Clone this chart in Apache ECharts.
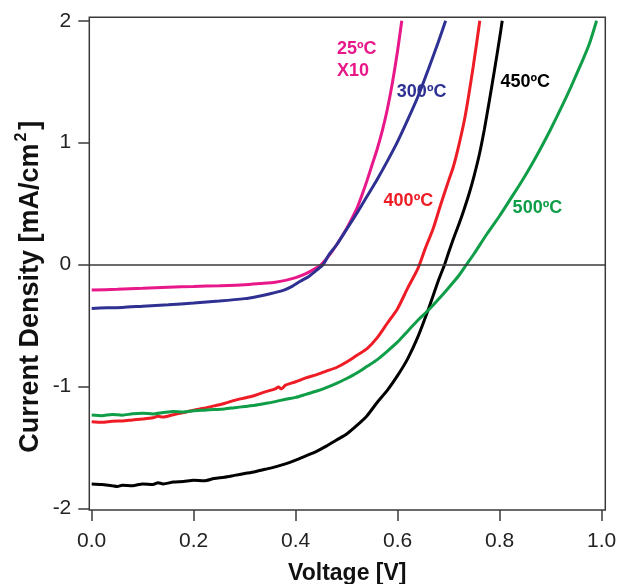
<!DOCTYPE html>
<html>
<head>
<meta charset="utf-8">
<script src="https://cdn.jsdelivr.net/npm/echarts@6/dist/echarts.min.js"></script>
<style>
html, body { margin: 0; padding: 0; background: #fff; }
#chart { width: 619px; height: 584px; }
</style>
</head>
<body>
<div id="chart"></div>
<script>
var xTicks = [0, 0.2, 0.4, 0.6, 0.8, 1.0];
var yTicks = [-2, -1, 0, 1, 2];
var curveNames = ['25ºC', '300ºC', '400ºC', '450ºC', '500ºC'];

// [voltage V, current density mA/cm2]
var data25 = [
    [0.00, -0.21], [0.05, -0.203], [0.10, -0.195], [0.15, -0.186], [0.20, -0.18],
    [0.25, -0.174], [0.30, -0.166], [0.33, -0.156], [0.36, -0.145], [0.38, -0.13],
    [0.40, -0.108], [0.42, -0.075], [0.44, -0.03], [0.45, 0.0], [0.46, 0.045],
    [0.47, 0.10], [0.48, 0.16], [0.49, 0.225], [0.50, 0.295], [0.51, 0.375],
    [0.52, 0.46], [0.53, 0.57], [0.54, 0.69], [0.55, 0.82], [0.56, 0.95],
    [0.57, 1.10], [0.58, 1.28], [0.59, 1.50], [0.60, 1.76], [0.608, 2.0]
];
var data300 = [
    [0.00, -0.36], [0.03, -0.355], [0.06, -0.352], [0.10, -0.342], [0.15, -0.33],
    [0.20, -0.316], [0.25, -0.30], [0.30, -0.28], [0.323, -0.264], [0.35, -0.24],
    [0.377, -0.21], [0.393, -0.18], [0.408, -0.14], [0.425, -0.10], [0.44, -0.05],
    [0.454, 0.0], [0.465, 0.08], [0.48, 0.16], [0.50, 0.29], [0.52, 0.42],
    [0.54, 0.56], [0.56, 0.70], [0.58, 0.85], [0.60, 1.01], [0.62, 1.19],
    [0.64, 1.38], [0.66, 1.60], [0.68, 1.83], [0.694, 2.0]
];
var data400 = [
    [0.00, -1.29], [0.02, -1.295], [0.04, -1.285], [0.06, -1.283], [0.08, -1.275],
    [0.10, -1.268], [0.12, -1.258], [0.13, -1.245], [0.14, -1.252], [0.16, -1.232],
    [0.18, -1.215], [0.20, -1.195], [0.22, -1.18], [0.24, -1.16], [0.26, -1.14],
    [0.28, -1.115], [0.30, -1.095], [0.32, -1.075], [0.34, -1.045], [0.36, -1.02],
    [0.366, -1.005], [0.372, -1.02], [0.38, -0.99], [0.40, -0.962], [0.42, -0.93],
    [0.44, -0.905], [0.46, -0.875], [0.48, -0.845], [0.50, -0.80], [0.52, -0.745],
    [0.54, -0.69], [0.56, -0.60], [0.58, -0.48], [0.60, -0.36], [0.62, -0.19],
    [0.64, -0.03], [0.654, 0.13], [0.67, 0.30], [0.683, 0.474], [0.70, 0.69],
    [0.709, 0.80], [0.72, 0.98], [0.732, 1.21], [0.748, 1.62], [0.761, 2.0]
];
var data450 = [
    [0.00, -1.80], [0.02, -1.805], [0.04, -1.815], [0.05, -1.822], [0.06, -1.81],
    [0.08, -1.815], [0.10, -1.80], [0.12, -1.805], [0.13, -1.79], [0.14, -1.80],
    [0.16, -1.785], [0.18, -1.78], [0.20, -1.77], [0.22, -1.775], [0.24, -1.755],
    [0.26, -1.745], [0.28, -1.73], [0.30, -1.715], [0.32, -1.70], [0.34, -1.68],
    [0.36, -1.66], [0.38, -1.635], [0.40, -1.605], [0.42, -1.57], [0.44, -1.535],
    [0.46, -1.49], [0.48, -1.44], [0.50, -1.39], [0.52, -1.32], [0.54, -1.24],
    [0.56, -1.13], [0.58, -1.03], [0.60, -0.91], [0.62, -0.77], [0.64, -0.59],
    [0.66, -0.37], [0.68, -0.13], [0.692, 0.0], [0.70, 0.10], [0.71, 0.22],
    [0.72, 0.33], [0.73, 0.45], [0.74, 0.58], [0.75, 0.73], [0.76, 0.90],
    [0.77, 1.11], [0.78, 1.35], [0.79, 1.60], [0.80, 1.86], [0.805, 2.0]
];
var data500 = [
    [0.00, -1.235], [0.02, -1.24], [0.04, -1.23], [0.06, -1.236], [0.08, -1.225],
    [0.10, -1.22], [0.12, -1.226], [0.14, -1.215], [0.16, -1.205], [0.18, -1.21],
    [0.20, -1.20], [0.22, -1.195], [0.24, -1.19], [0.26, -1.185], [0.28, -1.175],
    [0.30, -1.165], [0.32, -1.155], [0.34, -1.14], [0.36, -1.125], [0.38, -1.105],
    [0.40, -1.09], [0.42, -1.065], [0.44, -1.04], [0.46, -1.01], [0.48, -0.975],
    [0.50, -0.935], [0.52, -0.89], [0.54, -0.835], [0.56, -0.78], [0.58, -0.71],
    [0.60, -0.635], [0.62, -0.545], [0.64, -0.455], [0.66, -0.375], [0.68, -0.285],
    [0.70, -0.19], [0.72, -0.09], [0.735, 0.0], [0.75, 0.09], [0.775, 0.25],
    [0.80, 0.40], [0.82, 0.53], [0.84, 0.66], [0.86, 0.80], [0.88, 0.95],
    [0.90, 1.11], [0.92, 1.28], [0.94, 1.46], [0.96, 1.65], [0.975, 1.80], [0.99, 2.0]
];

var FONT = '"Liberation Sans", Arial, Helvetica, sans-serif';
var AXIS_COLOR = '#3a3a3a';

function curve(name, data, color, labelText, at, align) {
    return {
        name: name,
        type: 'line',
        data: data,
        smooth: 0.25,
        showSymbol: false,
        symbol: 'none',
        lineStyle: { color: color, width: 3 },
        itemStyle: { color: color },
        markPoint: {
            symbol: 'circle',
            symbolSize: 0,
            silent: true,
            data: [{ coord: at }],
            label: {
                show: true,
                position: 'inside',
                formatter: labelText,
                color: color,
                fontFamily: FONT,
                fontWeight: 'bold',
                fontSize: 18,
                lineHeight: 22,
                align: align || 'center'
            }
        }
    };
}

var chart = echarts.init(document.getElementById('chart'), null, { renderer: 'canvas' });

var series = [
    curve(curveNames[0], data25, '#e8178a', '25ºC\nX10', [0.481, 1.678], 'left'),
    curve(curveNames[1], data300, '#2e3192', '300ºC', [0.647, 1.415]),
    curve(curveNames[2], data400, '#ee1c25', '400ºC', [0.621, 0.521]),
    curve(curveNames[3], data450, '#000000', '450ºC', [0.850, 1.497]),
    curve(curveNames[4], data500, '#0f9d48', '500ºC', [0.874, 0.463])
];
// zero line
series[0].markLine = {
    silent: true,
    symbol: ['none', 'none'],
    label: { show: false },
    lineStyle: { color: AXIS_COLOR, width: 1.5, type: 'solid' },
    data: [{ yAxis: 0 }]
};

var option = {
    animation: false,
    backgroundColor: '#fff',
    grid: {
        show: true,
        left: 89.3,
        right: 13.7,
        top: 17.3,
        bottom: 74,
        outerBoundsMode: 'none',
        containLabel: false,
        borderColor: AXIS_COLOR,
        borderWidth: 1.5,
        backgroundColor: 'transparent'
    },
    xAxis: {
        type: 'value',
        min: -0.0047,
        max: 1.0071,
        name: 'Voltage [V]',
        nameLocation: 'middle',
        nameGap: 52,
        nameMoveOverlap: false,
        nameTextStyle: { fontFamily: FONT, fontWeight: 'bold', fontSize: 23, color: '#111' },
        axisLine: { show: false, onZero: false },
        splitLine: { show: false },
        axisTick: {
            show: true,
            inside: false,
            length: 11,
            customValues: xTicks,
            lineStyle: { color: AXIS_COLOR, width: 1.5 }
        },
        axisLabel: {
            customValues: xTicks,
            margin: 21,
            fontFamily: FONT,
            fontSize: 21,
            color: '#222',
            formatter: function (v) { return v.toFixed(1); }
        }
    },
    yAxis: {
        type: 'value',
        min: -2.014,
        max: 2.028,
        name: '{t|Current Density [mA/cm}{s|2}{t|]}',
        nameLocation: 'middle',
        nameRotate: 90,
        nameGap: 42,
        nameMoveOverlap: false,
        nameTextStyle: {
            padding: [0, 46, 0, 0],
            rich: {
                t: { fontFamily: FONT, fontWeight: 'bold', fontSize: 27, color: '#111', lineHeight: 34 },
                s: { fontFamily: FONT, fontWeight: 'bold', fontSize: 16, color: '#111', verticalAlign: 'top', lineHeight: 16, padding: [0, 3, 0, 2] }
            }
        },
        axisLine: { show: false, onZero: false },
        splitLine: { show: false },
        axisTick: {
            show: true,
            inside: false,
            length: 11,
            customValues: yTicks,
            lineStyle: { color: AXIS_COLOR, width: 1.5 }
        },
        axisLabel: {
            customValues: yTicks,
            margin: 18,
            fontFamily: FONT,
            fontSize: 21,
            color: '#222',
            formatter: function (v) { return String(v); }
        }
    },
    series: series
};
chart.setOption(option);
</script>
</body>
</html>
